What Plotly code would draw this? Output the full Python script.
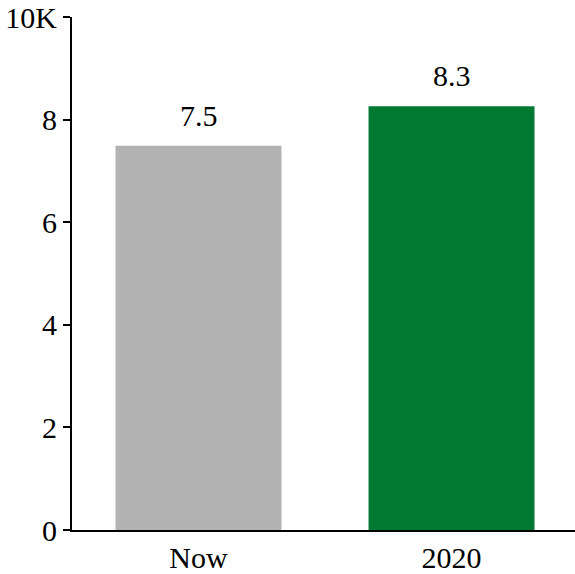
import plotly.graph_objects as go

categories = ["Now", "2020"]
values = [7.49, 8.26]
colors = ["#b3b3b3", "#007a33"]
tick_vals = [0, 2, 4, 6, 8, 10]
tick_text = ["0", "2", "4", "6", "8", "10K"]

font_family = "Liberation Serif"

fig = go.Figure(go.Bar(
    x=categories, y=values,
    marker=dict(color=colors, line=dict(width=0)),
    hoverinfo="skip",
))

for i, v in enumerate(values):
    fig.add_annotation(x=i, y=v, xref="x", yref="y", text=f"{v:.1f}",
                       showarrow=False, yanchor="bottom", yshift=12,
                       font=dict(family=font_family, size=30, color="#000"))

fig.update_layout(
    width=575, height=574,
    margin=dict(l=72, r=0, t=17, b=44),
    plot_bgcolor="white", paper_bgcolor="white",
    bargap=0.344,
    showlegend=False,
    font=dict(family=font_family, size=30, color="#000"),
    xaxis=dict(type="category", range=[-0.5, 1.488], showline=True,
               linecolor="#000", linewidth=2, ticks="", showgrid=False,
               automargin=False, tickfont=dict(size=30)),
    yaxis=dict(range=[0, 10], showline=True, linecolor="#000", linewidth=2,
               ticks="outside", ticklen=7, tickwidth=1.5, tickcolor="#000",
               tickvals=tick_vals, ticktext=tick_text, showgrid=False,
               zeroline=False, automargin=False, tickfont=dict(size=30)),
)

fig.write_html("out.html", config={"displayModeBar": False},
               post_script="document.body.style.margin='0';")
